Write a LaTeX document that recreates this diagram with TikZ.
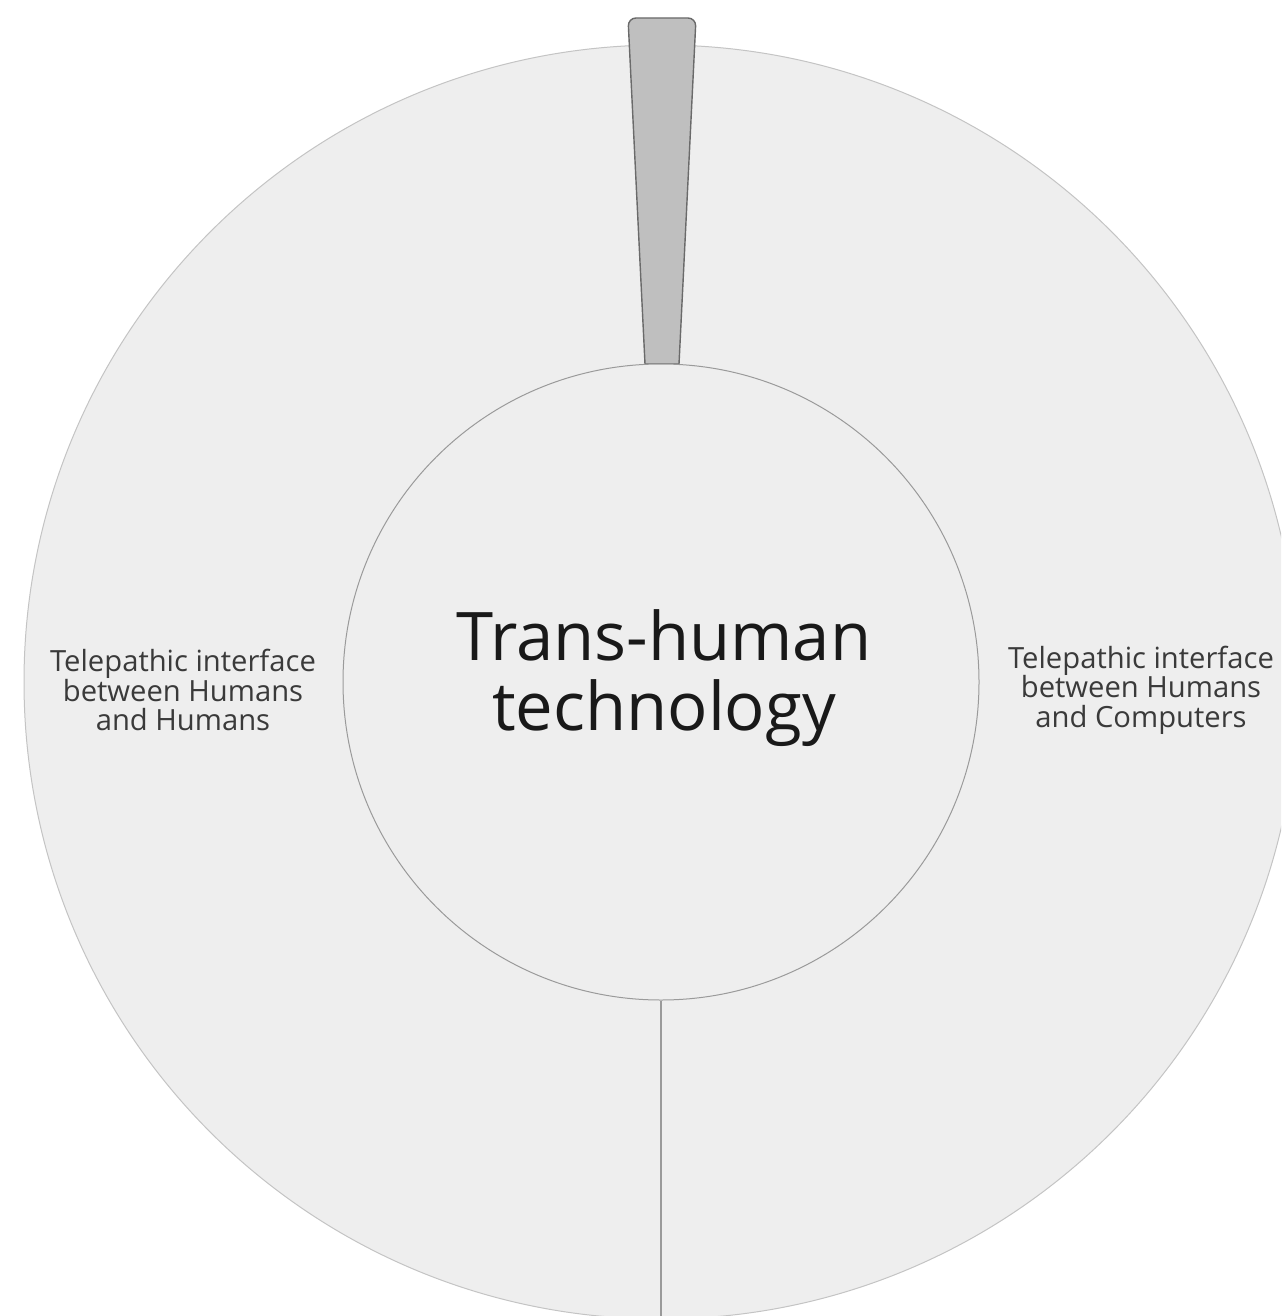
\documentclass[tikz,border=0pt]{standalone}
\usepackage{fontspec}
\setmainfont{Open Sans}
\definecolor{ringgray}{HTML}{EEEEEE}
\definecolor{rimgray}{HTML}{C4C4C4}
\definecolor{hubline}{HTML}{9A9A9A}
\definecolor{pointergray}{HTML}{BFBFBF}
\definecolor{pointeredge}{HTML}{6A6A6A}
\definecolor{labelgray}{HTML}{3A3A3A}
\tikzset{outerring/.style={circle,fill=ringgray,draw=rimgray,line width=0.5pt,minimum size=637pt,inner sep=0pt}}
\tikzset{innerhub/.style={circle,fill=ringgray,draw=hubline,line width=0.5pt,minimum size=318pt,inner sep=0pt}}
\tikzset{hubtext/.style={align=center,font=\fontsize{33.5}{35}\selectfont,text=black!90}}
\tikzset{sidetext/.style={align=center,font=\fontsize{14.6}{14.8}\selectfont,text=labelgray}}
\tikzset{divider/.style={draw=hubline,line width=0.6pt}}

\begin{document}
\begin{tikzpicture}[x=0.5pt,y=-0.5pt]
	\clip (0,0) rectangle (1281,1316);
	\fill[white] (0,0) rectangle (1281,1316);

	\node[outerring] (outer) at (661,682) {};

	% pointer at the top
	\draw[fill=pointergray,draw=pointeredge,line width=0.7pt]
		(645,364) [rounded corners=4pt] -- (628,18) -- (696,18) [sharp corners] -- (679,364) -- cycle;

	\node[innerhub] (inner) at (661,682) {};
	\draw[divider] (inner.south) -- (outer.south);

	\node[hubtext] (title) at (664,678) {Trans-human\\technology};
	\node[sidetext] (left) at (183,690) {Telepathic interface\\between Humans\\and Humans};
	\node[sidetext] (right) at (1141,690) {Telepathic interface\\between Humans\\and Computers};
\end{tikzpicture}
\end{document}
